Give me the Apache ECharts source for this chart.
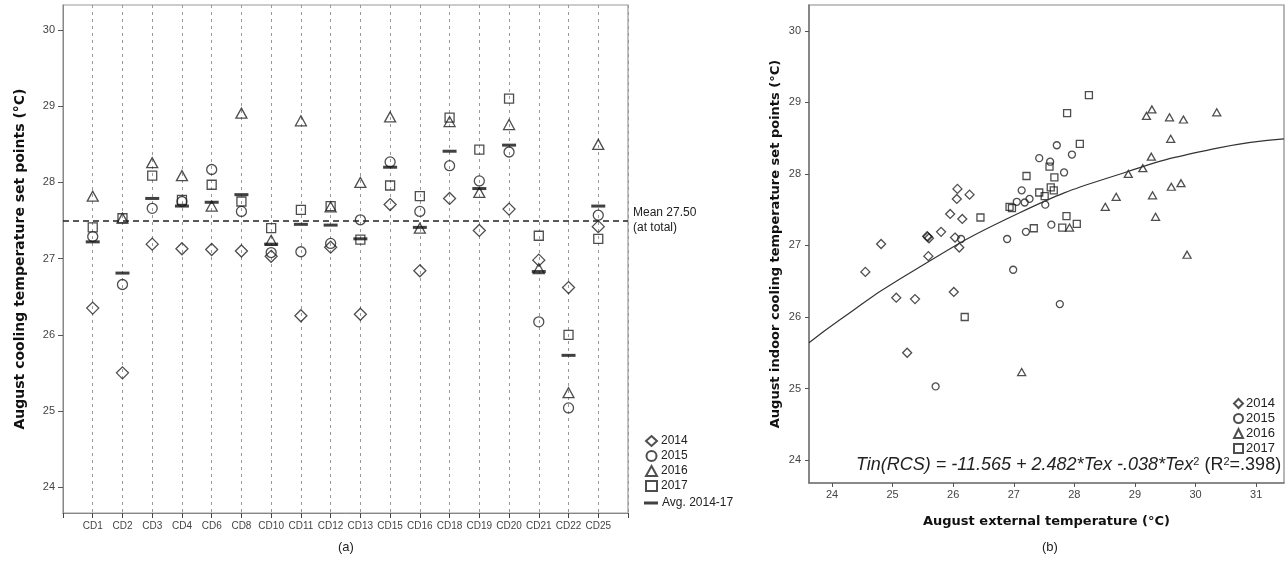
<!DOCTYPE html>
<html>
<head>
<meta charset="utf-8">
<script src="https://cdn.jsdelivr.net/npm/echarts@6/dist/echarts.min.js"></script>
<style>
  html, body { margin: 0; padding: 0; background: #fff; }
  #chart { width: 1287px; height: 562px; }
</style>
</head>
<body>
<div id="chart"></div>
<script>
// (a) set points per climate zone and year
var cats = ['CD1','CD2','CD3','CD4','CD6','CD8','CD10','CD11','CD12','CD13','CD15','CD16','CD18','CD19','CD20','CD21','CD22','CD25'];
var set2014 = [26.35,25.50,27.19,27.13,27.12,27.10,27.03,26.25,27.15,26.27,27.71,26.84,27.79,27.37,27.65,26.98,26.62,27.42];
var set2015 = [27.29,26.66,27.66,27.75,28.17,27.62,27.08,27.09,27.20,27.51,28.27,27.62,28.22,28.02,28.40,26.17,25.04,27.57];
var set2016 = [27.82,27.53,28.26,28.09,27.69,28.91,27.24,28.81,27.68,28.00,28.86,27.40,28.80,27.87,28.76,26.87,25.24,28.50];
var set2017 = [27.41,27.53,28.09,27.77,27.97,27.75,27.40,27.64,27.69,27.25,27.96,27.82,28.85,28.43,29.10,27.30,26.00,27.26];
var setAvg  = [27.22,26.81,27.79,27.69,27.74,27.84,27.19,27.45,27.44,27.26,28.20,27.41,28.41,27.92,28.49,26.83,25.73,27.69];
var meanValue = 27.5;
var yTicks = [24,25,26,27,28,29,30];

// (b) [external temp, indoor set point]
var ext2014 = [[26.07,27.79],[26.06,27.65],[26.27,27.71],[25.95,27.44],[26.15,27.37],[25.80,27.19],[25.58,27.12],[25.60,27.10],[25.57,27.13],[26.03,27.11],[26.10,26.97],[24.81,27.02],[25.59,26.85],[24.55,26.63],[25.06,26.27],[25.37,26.25],[26.01,26.35],[25.24,25.50]];
var ext2015 = [[26.13,27.09],[26.89,27.09],[26.99,26.66],[27.05,27.61],[27.13,27.77],[27.71,28.40],[27.42,28.22],[27.60,28.17],[27.96,28.27],[27.83,28.02],[27.18,27.60],[27.26,27.65],[27.52,27.57],[27.20,27.19],[27.62,27.29],[27.76,26.18],[25.71,25.03]];
var ext2016 = [[29.28,28.90],[29.19,28.81],[29.57,28.79],[29.80,28.76],[29.59,28.49],[29.27,28.24],[29.13,28.08],[28.89,28.00],[28.69,27.68],[28.51,27.54],[29.29,27.70],[29.60,27.82],[29.76,27.87],[29.34,27.40],[27.92,27.25],[30.35,28.86],[29.86,26.87],[27.13,25.23]];
var ext2017 = [[28.24,29.10],[27.88,28.85],[28.09,28.42],[27.21,27.97],[27.59,28.10],[27.67,27.95],[27.42,27.74],[27.61,27.81],[27.66,27.77],[27.51,27.69],[26.97,27.52],[26.93,27.54],[27.87,27.41],[27.33,27.24],[27.80,27.25],[28.04,27.30],[26.45,27.39],[26.19,26.00]];
var fitT   = [23.62,24.13,25.10,27.08,28.87,30.36,31.46];
var fitTin = [25.64,25.96,26.52,27.45,28.03,28.36,28.49];
var xTicksB = [24,25,26,27,28,29,30,31];

var ink = '#222';
var hollow = {color: 'rgba(0,0,0,0)', borderColor: ink, borderWidth: 1.3};
function byIndex(arr){ return arr.map(function(v, i){ return [i, v]; }); }

var myChart = echarts.init(document.getElementById('chart'));
var option = {
    animation: false,
    textStyle: {fontFamily: 'Liberation Sans, Arial, sans-serif'},
    grid: [
        {left: 63, top: 5, right: 659, bottom: 49, show: true, borderColor: '#999', borderWidth: 1.2},
        {left: 809, top: 5, right: 3, bottom: 79, show: true, borderColor: '#888', borderWidth: 1.2}
    ],
    xAxis: [
        {
            gridIndex: 0, type: 'value', min: -1, max: 18, interval: 1,
            axisLine: {onZero: false, lineStyle: {color: '#888'}},
            axisTick: {length: 5, lineStyle: {color: '#444'}},
            axisLabel: {fontSize: 10, color: '#444', margin: 8,
                formatter: function(v){ return cats[v] || ''; }},
            splitLine: {show: true, lineStyle: {color: '#999', type: [3, 4], width: 1}}
        },
        {
            gridIndex: 1, type: 'value', min: 23.62, max: 31.46,
            axisLine: {onZero: false, lineStyle: {color: '#777', width: 1.5}},
            axisTick: {length: 4, customValues: xTicksB, lineStyle: {color: '#555'}},
            axisLabel: {fontSize: 11, color: '#444', margin: 6, customValues: xTicksB},
            splitLine: {show: false},
            name: 'August external temperature (°C)', nameLocation: 'middle', nameGap: 32,
            nameTextStyle: {fontFamily: 'DejaVu Sans', fontWeight: 'bold', fontSize: 13, color: '#111'}
        }
    ],
    yAxis: [
        {
            gridIndex: 0, type: 'value', min: 23.66, max: 30.33,
            axisLine: {show: true, onZero: false, lineStyle: {color: '#888'}},
            axisTick: {show: true, length: 5, customValues: yTicks, lineStyle: {color: '#555'}},
            axisLabel: {fontSize: 11, color: '#444', customValues: yTicks},
            splitLine: {show: false},
            name: 'August cooling temperature set points (°C)', nameLocation: 'middle', nameGap: 36,
            nameTextStyle: {fontFamily: 'DejaVu Sans', fontWeight: 'bold', fontSize: 14, color: '#111'}
        },
        {
            gridIndex: 1, type: 'value', min: 23.68, max: 30.36,
            axisLine: {show: true, onZero: false, lineStyle: {color: '#777', width: 1.5}},
            axisTick: {show: true, length: 4, customValues: yTicks, lineStyle: {color: '#555'}},
            axisLabel: {fontSize: 11, color: '#444', customValues: yTicks},
            splitLine: {show: false},
            name: 'August indoor cooling temperature set points (°C)', nameLocation: 'middle', nameGap: 27,
            nameTextStyle: {fontFamily: 'DejaVu Sans', fontWeight: 'bold', fontSize: 13, color: '#111'}
        }
    ],
    legend: [
        {
            data: ['2014', '2015', '2016', '2017'], orient: 'vertical', left: 640, top: 430,
            itemWidth: 11, itemHeight: 10, itemGap: 3,
            textStyle: {fontSize: 12, color: '#222', padding: [0, 0, 0, -1]}
        },
        {
            data: ['Avg. 2014-17'], orient: 'vertical', left: 639, top: 492,
            itemWidth: 14, itemHeight: 3,
            textStyle: {fontSize: 12, color: '#222', padding: [0, 0, 0, -1]}
        },
        {
            data: ['2014', '2015', '2016', '2017'], orient: 'vertical', left: 1228, top: 392,
            itemWidth: 9, itemHeight: 9, itemGap: 2,
            textStyle: {fontSize: 13, color: '#222', padding: [0, 0, 0, -2]}
        }
    ],
    graphic: [
        {type: 'text', left: 338, top: 541, style: {text: '(a)', fontSize: 13, fill: '#222'}},
        {type: 'text', left: 1042, top: 541, style: {text: '(b)', fontSize: 13, fill: '#222'}},
        {type: 'text', left: 856, top: 456, style: {
            text: '{i|Tin(RCS) = -11.565 + 2.482*Tex -.038*Tex}{s|2}{n| (R}{s|2}{n|=.398)}',
            fill: '#222',
            rich: {
                i: {fontStyle: 'italic', fontSize: 18, fill: '#222', fontFamily: 'Liberation Sans'},
                n: {fontSize: 18, fill: '#222', fontFamily: 'Liberation Sans'},
                s: {fontSize: 11, fill: '#222', verticalAlign: 'top', fontFamily: 'Liberation Sans'}
            }
        }}
    ],
    series: [
        {name: '2014', type: 'scatter', xAxisIndex: 0, yAxisIndex: 0, symbol: 'diamond', symbolSize: 12,
            itemStyle: hollow, data: byIndex(set2014), z: 3,
            markLine: {
                silent: true, symbol: 'none',
                lineStyle: {color: '#222', type: [6, 4], width: 1.5},
                label: {show: true, position: 'end', distance: 5, fontSize: 12, color: '#222', lineHeight: 15,
                    padding: [15, 0, 0, 0], formatter: 'Mean 27.50\n(at total)'},
                data: [{yAxis: meanValue}]
            }},
        {name: '2015', type: 'scatter', xAxisIndex: 0, yAxisIndex: 0, symbol: 'circle', symbolSize: 10,
            itemStyle: hollow, data: byIndex(set2015), z: 3},
        {name: '2016', type: 'scatter', xAxisIndex: 0, yAxisIndex: 0, symbol: 'triangle', symbolSize: [11, 10],
            itemStyle: hollow, data: byIndex(set2016), z: 3},
        {name: '2017', type: 'scatter', xAxisIndex: 0, yAxisIndex: 0, symbol: 'rect', symbolSize: 9,
            itemStyle: hollow, data: byIndex(set2017), z: 3},
        {name: 'Avg. 2014-17', type: 'scatter', xAxisIndex: 0, yAxisIndex: 0, symbol: 'rect', symbolSize: [14, 3],
            itemStyle: {color: '#111'}, data: byIndex(setAvg), z: 4},

        {name: '2014', type: 'scatter', xAxisIndex: 1, yAxisIndex: 1, symbol: 'diamond', symbolSize: 9,
            itemStyle: hollow, data: ext2014},
        {name: '2015', type: 'scatter', xAxisIndex: 1, yAxisIndex: 1, symbol: 'circle', symbolSize: 7,
            itemStyle: hollow, data: ext2015},
        {name: '2016', type: 'scatter', xAxisIndex: 1, yAxisIndex: 1, symbol: 'triangle', symbolSize: [8, 7],
            itemStyle: hollow, data: ext2016},
        {name: '2017', type: 'scatter', xAxisIndex: 1, yAxisIndex: 1, symbol: 'rect', symbolSize: 7,
            itemStyle: hollow, data: ext2017},
        {name: 'fit', type: 'line', xAxisIndex: 1, yAxisIndex: 1, smooth: true, showSymbol: false,
            lineStyle: {color: '#333', width: 1.2}, silent: true,
            data: fitT.map(function(t, i){ return [t, fitTin[i]]; })}
    ]
};
myChart.setOption(option);
</script>
</body>
</html>
